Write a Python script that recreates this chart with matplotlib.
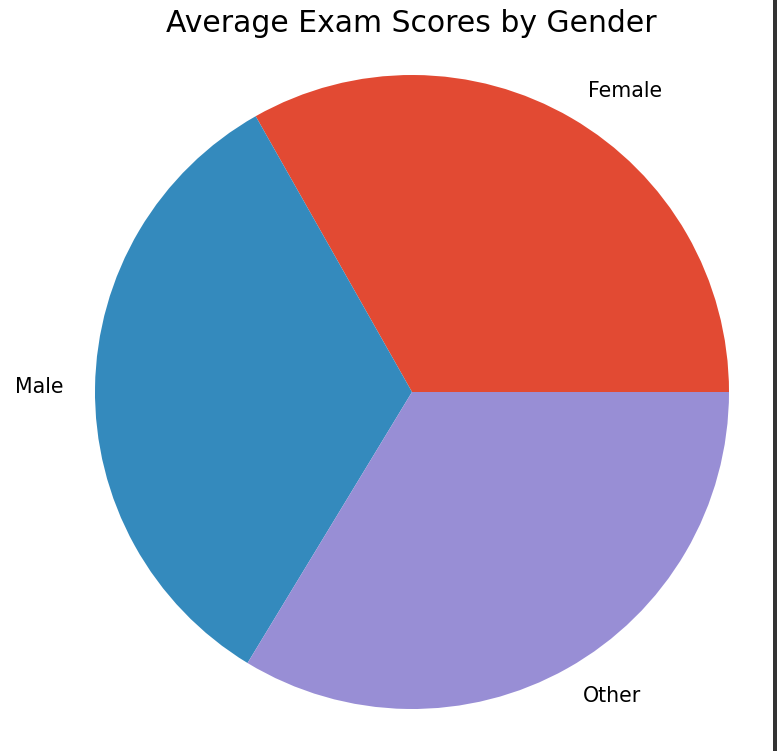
"""Average exam scores by gender - pie chart"""

import matplotlib
matplotlib.use('Agg')
import matplotlib.pyplot as plt
from matplotlib.patches import Rectangle

plt.style.use('ggplot')

genders = ['Female', 'Male', 'Other']
avg_scores = [70.2, 70.0, 71.2]
colors = ['#E24A33', '#348ABD', '#988ED5']

W, H = 777, 751
cx, cy, r = 412, 392, 317

fig = plt.figure(figsize=(W / 100, H / 100), dpi=100)
fig.patch.set_facecolor('white')
ax = fig.add_axes([0, 0, 1, 1])

ax.pie(avg_scores, labels=genders, colors=colors,
       textprops={'fontsize': 14.8, 'color': 'black'})
ax.set_aspect('auto')
ax.set_xlim(-cx / r, (W - cx) / r)
ax.set_ylim(-(H - cy) / r, cy / r)

fig.text(411.5 / W, 1 - 24 / H, 'Average Exam Scores by Gender',
         ha='center', va='center', fontsize=21.5, color='black')

# frame edge on the right side of the screenshot
fig.patches.append(Rectangle((773 / W, 0), 4 / W, 1, transform=fig.transFigure,
                             facecolor='#333333', edgecolor='none'))

plt.savefig('out.png', dpi=100)
